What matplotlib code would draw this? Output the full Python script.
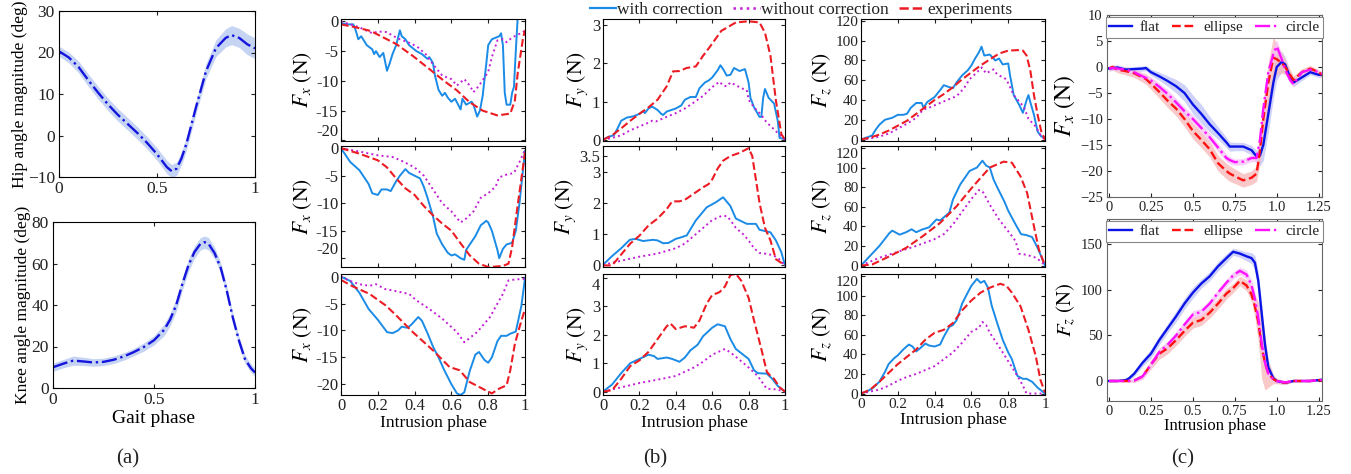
import numpy as np
import matplotlib
matplotlib.use("Agg")
import matplotlib.pyplot as plt
from matplotlib.lines import Line2D

# ---------------- data: panel (a) ----------------
hip_x = [0, .05, .1, .15, .2, .25, .3, .35, .4, .45, .5, .55, .575, .6, .625, .65, .7, .75, .8, .85, .88, .92, .96, 1]
hip = [20.3, 18.8, 16.5, 13.3, 10.3, 7.5, 5.0, 2.8, 0.6, -1.8, -4.5, -7.6, -8.6, -8.0, -5.5, -2.0, 7.0, 15.5, 21.0, 23.5, 24.2, 23.5, 22.0, 21.0]
hip_sd = [1.2, 1.3, 1.4, 1.5, 1.5, 1.5, 1.5, 1.5, 1.5, 1.5, 1.5, 1.6, 1.6, 1.6, 1.6, 1.6, 1.6, 1.8, 2.0, 2.2, 2.3, 2.3, 2.5, 2.5]

knee_x = [0, .05, .1, .15, .2, .25, .3, .35, .4, .45, .5, .55, .58, .61, .64, .67, .7, .73, .75, .77, .8, .83, .86, .89, .92, .95, .98, 1]
knee = [10, 11.7, 13.2, 12.8, 12.3, 12.6, 13.6, 15.2, 17.3, 19.8, 23, 28, 33, 40, 50, 59, 65.5, 69.5, 70.3, 69.5, 65, 58, 47, 34, 23, 14, 9.5, 7.5]
knee_sd = [2, 2, 2.2, 2, 1.8, 1.8, 1.8, 1.8, 1.8, 2, 2.2, 2.8, 3, 3, 3, 3, 3, 3, 3, 3, 2.8, 2.5, 2.2, 2, 2, 2, 2, 2]

# ---------------- data: panel (b), Fx ----------------
fx1_with_x = [0, .04, .067, .08, .094, .11, .14, .17, .18, .19, .21, .23, .25, .265, .28, .30, .32, .33, .35, .37, .39, .41, .44, .47, .48, .50, .51, .53, .55, .565, .58, .60, .62, .65, .66, .68, .71, .72, .74, .755, .77, .79, .80, .82, .86, .87, .88, .89, .90, .92, .93, .94, .95, .96, .97]
fx1_with = [-0.3, -0.5, -0.5, -1.5, -3.0, -2.5, -4.0, -4.7, -5.5, -5.0, -6.0, -5.3, -8.3, -7.0, -5.5, -4.0, -1.5, -2.5, -3.0, -4.0, -4.5, -5.0, -5.5, -6.3, -6.0, -7.0, -9.0, -11.5, -12.5, -12.0, -12.8, -13.5, -13.0, -14.8, -13.0, -14.0, -13.5, -14.0, -16.0, -15.0, -12.5, -7.0, -4.0, -3.0, -2.5, -2.0, -4.0, -12.0, -14.0, -14.0, -12.0, -11.0, -5.0, 0.5, 3.0]
fx1_exp_x = [0, .08, .16, .3, .39, .48, .56, .63, .70, .77, .85, .92, .945, .96, .99, 1.0]
fx1_exp = [-0.5, -1.0, -1.6, -3.8, -5.8, -8.0, -10.0, -11.6, -13.6, -15.0, -15.8, -15.5, -13.3, -8.8, -2.7, -1.5]
fx1_wo_x = [0, .05, .1, .17, .2, .25, .28, .32, .38, .42, .46, .5, .55, .6, .63, .67, .7, .72, .75, .8, .82, .85, .88, .9, .93, .97, 1.0]
fx1_wo = [0, -0.5, -1.0, -2.0, -1.7, -1.8, -2.4, -3.0, -3.7, -4.4, -5.5, -7.2, -9.1, -9.7, -10.8, -9.7, -10.8, -11.9, -10.8, -8.5, -6.0, -3.2, -3.0, -3.5, -2.7, -2.1, -1.6]

fx2_with_x = [0, .05, .1, .15, .17, .2, .22, .25, .27, .3, .32, .35, .37, .4, .43, .45, .47, .5, .52, .55, .58, .6, .62, .65, .67, .68, .7, .73, .76, .79, .8, .82, .85, .86, .88, .9, .93, .95, .97, 1.0]
fx2_with = [0, -2.5, -4.0, -6.5, -8.2, -8.5, -7.5, -7.5, -7.8, -6.0, -5.0, -3.8, -4.5, -5.0, -5.5, -7.0, -9.0, -12.4, -15.5, -17.5, -19.0, -19.5, -19.3, -20.0, -20.3, -18.5, -17.5, -16.0, -14.0, -13.2, -13.5, -15.0, -18.5, -20.0, -18.3, -17.5, -17.2, -15.0, -10.0, -0.5]
fx2_exp_x = [0, .1, .2, .25, .3, .35, .4, .45, .5, .55, .6, .65, .7, .75, .8, .85, .88, .91, .93, .96, 1.0]
fx2_exp = [0, -1.0, -2.2, -3.5, -5.5, -7.3, -8.5, -10.5, -12.2, -13.7, -15.0, -17.3, -19.5, -21.0, -21.6, -21.5, -21.4, -21.0, -18.0, -10.4, -0.8]
fx2_wo_x = [0, .1, .2, .28, .33, .4, .45, .5, .55, .6, .65, .68, .72, .76, .8, .84, .86, .9, .94, .97, 1.0]
fx2_wo = [0, -0.6, -1.3, -1.6, -2.3, -3.5, -5.0, -7.5, -10.0, -11.5, -13.5, -12.8, -11.5, -9.0, -8.2, -7.0, -5.3, -4.8, -4.5, -2.5, -0.3]

fx3_with_x = [0, .05, .1, .15, .2, .25, .28, .31, .33, .36, .38, .42, .44, .47, .5, .53, .56, .6, .63, .65, .67, .7, .73, .75, .78, .8, .82, .85, .87, .9, .92, .95, .98, 1.0]
fx3_with = [0, -0.8, -3.0, -6.0, -8.0, -10.3, -10.5, -10.0, -9.3, -9.5, -9.0, -7.5, -8.2, -10.5, -13.0, -15.0, -17.3, -20.0, -21.7, -22.0, -21.5, -17.5, -14.5, -14.0, -15.5, -16.0, -15.0, -12.0, -11.0, -11.0, -10.6, -10.2, -5.5, -0.3]
fx3_exp_x = [0, .064, .155, .245, .3, .39, .5, .59, .645, .7, .79, .82, .86, .9, .92, .945, .97, 1.0]
fx3_exp = [-0.6, -1.8, -3.2, -5.4, -7.2, -10.3, -13.7, -16.8, -17.4, -19.6, -21.2, -21.7, -20.8, -20.2, -17.4, -12.5, -9.4, -6.0]
fx3_wo_x = [0, .05, .1, .155, .19, .24, .3, .37, .41, .48, .55, .63, .67, .74, .81, .85, .88, .91, .95, 1.0]
fx3_wo = [0, -0.8, -1.4, -1.7, -1.4, -2.3, -2.7, -3.2, -4.4, -6.0, -7.8, -10.3, -12.2, -10.3, -7.5, -5.0, -3.2, -0.7, -0.5, -0.4]

# ---------------- data: panel (b), Fy ----------------
fy1_with_x = [0, .03, .06, .08, .1, .13, .17, .2, .22, .23, .25, .27, .3, .32, .33, .35, .4, .43, .45, .48, .51, .53, .56, .58, .6, .63, .645, .66, .68, .7, .72, .75, .78, .8, .81, .83, .86, .87, .88, .89, .91, .94, .96, .97, 1.0]
fy1_with = [0, .08, .12, .3, .5, .58, .62, .68, .75, .7, .82, .87, .78, .68, .65, .74, .82, .9, 1.05, 1.12, 1.12, 1.35, 1.5, 1.55, 1.63, 1.82, 1.95, 1.85, 1.68, 1.7, 1.88, 1.8, 1.85, 1.5, 1.1, .85, .6, .6, 1.1, 1.33, 1.1, .95, .5, .05, .02]
fy1_exp_x = [0, .05, .1, .15, .2, .25, .3, .35, .385, .42, .46, .51, .55, .59, .65, .73, .8, .86, .89, .92, .95, .98, 1.0]
fy1_exp = [0, .12, .3, .5, .68, .85, 1.05, 1.4, 1.79, 1.8, 1.88, 1.92, 2.2, 2.45, 2.85, 3.07, 3.1, 3.07, 2.8, 2.2, 1.03, .15, 0]
fy1_wo_x = [0, .05, .1, .15, .2, .25, .27, .29, .33, .4, .45, .5, .55, .6, .64, .66, .68, .7, .73, .76, .79, .8, .83, .87, .9, .93, .96, 1.0]
fy1_wo = [0, .05, .12, .25, .35, .45, .5, .48, .56, .7, .82, .98, 1.15, 1.38, 1.52, 1.42, 1.4, 1.5, 1.43, 1.35, 1.3, 1.05, .85, .65, .45, .32, .18, 0]

fy2_with_x = [0, .05, .1, .147, .18, .22, .275, .3, .33, .36, .4, .43, .46, .51, .57, .62, .66, .7, .73, .79, .84, .86, .92, .95, .98, 1.0]
fy2_with = [0.02, .3, .55, .82, .85, .78, .82, .8, .71, .72, .85, .9, .96, 1.44, 1.86, 2.02, 2.18, 1.9, 1.5, 1.33, 1.33, 1.14, 1.06, .8, .42, 0]
fy2_exp_x = [0, .05, .1, .15, .2, .25, .3, .35, .38, .42, .45, .5, .55, .58, .6, .63, .66, .7, .75, .8, .82, .86, .89, .92, .95, 1.0]
fy2_exp = [0, 0, .35, .7, .95, 1.28, 1.5, 1.8, 2.05, 2.05, 2.1, 2.3, 2.5, 2.6, 2.75, 3.1, 3.35, 3.5, 3.6, 3.75, 3.5, 2.0, 1.2, .8, .2, 0]
fy2_wo_x = [0, .1, .2, .3, .4, .45, .5, .55, .6, .65, .68, .7, .73, .77, .8, .83, .86, .9, .93, .96, 1.0]
fy2_wo = [.02, .15, .28, .38, .55, .7, .95, 1.2, 1.45, 1.58, 1.58, 1.45, 1.2, 1.0, .8, .55, .4, .37, .33, .25, 0]

fy3_with_x = [0, .05, .1, .15, .2, .25, .28, .3, .33, .35, .38, .42, .45, .48, .52, .55, .6, .63, .67, .7, .73, .76, .8, .83, .85, .9, .93, .96, 1.0]
fy3_with = [0, .25, .65, 1.0, 1.15, 1.3, 1.25, 1.15, 1.18, 1.2, 1.15, 1.05, 1.2, 1.45, 1.65, 1.95, 2.25, 2.37, 2.3, 1.85, 1.5, 1.35, 1.15, .75, .65, .63, .45, .2, 0]
fy3_exp_x = [0, .05, .1, .15, .2, .25, .3, .35, .37, .4, .45, .5, .53, .57, .6, .64, .67, .7, .73, .76, .8, .83, .87, .9, .92, .94, .97, 1.0]
fy3_exp = [0, .05, .45, .9, 1.1, 1.4, 1.85, 2.3, 2.4, 2.2, 2.3, 2.25, 2.5, 3.1, 3.4, 3.5, 3.7, 4.1, 4.15, 3.9, 3.3, 2.5, 1.5, .7, .55, .45, .15, 0]
fy3_wo_x = [0, .1, .2, .3, .4, .5, .55, .6, .67, .7, .75, .8, .85, .9, .95, 1.0]
fy3_wo = [0, .15, .3, .42, .55, .85, 1.05, 1.3, 1.5, 1.38, 1.12, .85, .55, .1, .08, 0]

# ---------------- data: panel (b), Fz ----------------
fz1_with_x = [0, .03, .06, .08, .1, .13, .17, .2, .23, .25, .27, .3, .33, .34, .36, .4, .43, .45, .48, .5, .52, .55, .58, .6, .62, .64, .655, .67, .7, .73, .75, .77, .8, .81, .83, .86, .88, .9, .91, .92, .94, .96, .98, 1.0]
fz1_with = [0, 2, 4, 10, 15, 20, 22, 25, 25, 26, 32, 37, 37, 32, 38, 43, 50, 55, 53, 52, 58, 65, 70, 75, 82, 88, 94, 85, 86, 80, 82, 76, 77, 65, 45, 35, 27, 40, 45, 38, 25, 8, 3, 2]
fz1_exp_x = [0, .05, .1, .15, .2, .25, .3, .35, .4, .45, .5, .55, .6, .65, .7, .75, .8, .85, .88, .9, .92, .94, .96, .98, 1.0]
fz1_exp = [0, 2, 5, 9, 14, 19, 26, 33, 40, 46, 53, 61, 68, 75, 81, 87, 90, 90.5, 90, 85, 70, 45, 25, 8, 0]
fz1_wo_x = [0, .05, .1, .15, .2, .25, .3, .336, .38, .43, .52, .56, .59, .63, .656, .68, .72, .74, .79, .83, .885, .91, .95, .98, 1.0]
fz1_wo = [0, 1, 3, 6, 11, 16, 22, 30, 33, 37, 44, 52, 61, 68, 73, 67, 71, 66, 61, 45, 33, 21, 13, 3, 0]

fz2_with_x = [0, .05, .1, .154, .17, .21, .245, .275, .3, .33, .37, .41, .43, .48, .5, .54, .59, .63, .66, .68, .7, .72, .74, .78, .8, .84, .87, .9, .93, .96, 1.0]
fz2_with = [0, 10, 20, 33, 35.6, 31.5, 34, 37, 34, 36.6, 39, 47, 46, 54, 67.5, 83, 96.5, 100, 107, 102, 100, 88, 80, 65, 56, 42, 32, 31, 29, 18, 0]
fz2_exp_x = [0, .06, .15, .245, .336, .43, .52, .61, .70, .775, .82, .867, .903, .94, .967, 1.0]
fz2_exp = [0, 1, 9, 18, 30, 43.5, 60.6, 81, 100, 106, 105, 91, 74, 40, 16, 0]
fz2_wo_x = [0, .1, .2, .3, .4, .45, .5, .55, .6, .64, .66, .7, .75, .8, .84, .86, .9, .95, .98, 1.0]
fz2_wo = [0, 8, 14, 20, 27, 32, 42, 55, 68, 77, 76, 62, 47, 35, 25, 12, 11, 8, 4, 0]

fz3_with_x = [0, .03, .06, .1, .13, .15, .18, .2, .23, .26, .28, .3, .32, .35, .37, .4, .43, .45, .48, .5, .52, .55, .58, .6, .63, .65, .67, .69, .71, .74, .77, .8, .82, .85, .88, .9, .93, .96, 1.0]
fz3_with = [0, 2, 5, 12, 22, 30, 36, 39, 45, 50, 48, 43, 46, 51, 49, 48, 50, 58, 68, 70, 75, 92, 103, 110, 117, 113, 115, 108, 90, 72, 55, 42, 35, 18, 15, 15, 12, 6, 0]
fz3_exp_x = [0, .05, .1, .2, .3, .35, .4, .45, .5, .55, .6, .65, .7, .757, .79, .82, .867, .91, .95, .975, 1.0]
fz3_exp = [0, 4, 12, 30, 45, 55, 62, 65, 72, 85, 95, 103, 108, 112, 110, 103, 89, 65, 38, 14, 1]
fz3_wo_x = [0, .1, .15, .2, .25, .3, .35, .4, .45, .5, .55, .6, .64, .66, .68, .7, .75, .8, .85, .88, .9, .95, 1.0]
fz3_wo = [0, 4, 8, 13, 17, 20, 24, 28, 35, 42, 52, 63, 67, 73, 70, 62, 48, 33, 18, 8, 0, 0, 0]

# ---------------- data: panel (c) ----------------
c_fx_x = [0, .02, .05, .1, .15, .2, .22, .25, .3, .35, .4, .45, .5, .55, .6, .65, .7, .72, .75, .8, .85, .88, .9, .92, .95, .98, 1.0, 1.03, 1.05, 1.08, 1.1, 1.15, 1.2, 1.25, 1.27]
flat_fx = [-0.3, -0.2, -0.1, -0.5, -0.4, -0.3, -0.2, -1.0, -1.8, -2.7, -3.7, -5.0, -7.2, -9.0, -11.0, -12.7, -14.5, -15.3, -15.3, -15.3, -16.0, -17.2, -17.0, -15.0, -9.0, -3.0, 0.0, 1.0, 0.5, -2.0, -3.0, -2.0, -1.0, -1.5, -1.5]
flat_fx_sd = [.5, .5, .5, .5, .5, .5, .5, .6, .8, 1.0, 1.3, 1.6, 1.8, 1.8, 1.5, 1.2, 1.0, .9, .8, .8, .9, 1.2, 2.0, 3.0, 3.5, 3.0, 2.5, 2.0, 1.5, 1.0, .8, .6, .5, .5, .5]
ellipse_fx = [-0.3, 0.0, -0.5, -0.8, -1.2, -2.0, -2.3, -3.2, -4.8, -6.5, -8.0, -10.0, -12.3, -14.0, -15.8, -18.5, -20.0, -20.5, -21.0, -21.8, -21.3, -20.5, -16.0, -10.0, -3.0, 1.8, 1.5, 0.8, 0.0, -1.5, -2.5, -1.0, -0.3, -1.0, -1.5]
ellipse_fx_sd = [.5, .5, .6, .7, .8, .9, 1.0, 1.1, 1.2, 1.3, 1.4, 1.5, 1.5, 1.5, 1.5, 1.5, 1.5, 1.5, 1.4, 1.3, 1.3, 1.5, 2.5, 3.5, 4.0, 4.0, 3.0, 2.0, 1.5, 1.0, .8, .7, .6, .5, .5]
circle_fx = [-0.3, -0.2, -0.3, -0.5, -1.0, -1.8, -2.1, -2.6, -3.8, -5.2, -6.8, -8.5, -10.0, -11.7, -13.5, -15.5, -17.5, -17.9, -18.3, -18.2, -17.5, -17.5, -14.0, -8.0, -1.0, 2.5, 4.0, 1.5, -0.5, -2.5, -3.3, -1.0, -0.5, -1.0, -1.3]
circle_fx_sd = [.4, .4, .4, .5, .5, .6, .6, .7, .7, .8, .8, .8, .8, .8, .8, .8, .7, .7, .6, .6, .7, .8, 1.2, 1.5, 1.5, 1.5, 1.2, 1.0, .8, .6, .5, .4, .4, .4, .4]

c_fz_x = [0, .05, .1, .12, .15, .2, .25, .3, .35, .4, .45, .5, .55, .6, .65, .7, .74, .78, .82, .85, .87, .89, .91, .93, .95, .98, 1.0, 1.05, 1.1, 1.2, 1.25, 1.27]
flat_fz = [0, 0, 1, 3, 8, 20, 30, 45, 58, 71, 85, 97, 107, 115, 126, 135, 142, 140, 137, 135, 130, 110, 75, 40, 15, 3, 0, -2, 0, 0, 1, 1.5]
flat_fz_sd = [1, 1, 1, 2, 3, 4, 5, 5, 5, 6, 6, 6, 5, 5, 5, 5, 4, 4, 5, 6, 8, 10, 10, 8, 5, 3, 2, 2, 1, 1, 1, 1]
ellipse_fz = [0, 0, 0, 0, .5, 5, 18, 30, 36, 45, 55, 64, 67, 75, 85, 96, 102, 110, 105, 95, 82, 65, 38, 20, 8, 2, 0, -2, 0, 0, 1, .5]
ellipse_fz_sd = [1, 1, 1, 1, 2, 3, 5, 6, 6, 6, 6, 6, 6, 6, 6, 6, 5, 5, 6, 8, 12, 22, 35, 30, 15, 5, 3, 2, 1, 1, 1, 1]
circle_fz = [0, 0, 0, 0, .5, 5, 18, 32, 40, 50, 62, 73, 76, 85, 97, 108, 116, 121, 117, 105, 90, 70, 42, 20, 8, 2, 0, -1.5, 0, 0, 1, 1]
circle_fz_sd = [1, 1, 1, 1, 2, 3, 4, 4, 4, 4, 4, 4, 4, 4, 4, 4, 4, 4, 5, 6, 8, 10, 10, 8, 5, 3, 2, 2, 1, 1, 1, 1]

# ---------------- style ----------------
plt.rcParams['font.family'] = ['Liberation Serif', 'DejaVu Serif']
plt.rcParams['mathtext.fontset'] = 'stix'
plt.rcParams['axes.linewidth'] = 0.8
plt.rcParams['xtick.direction'] = 'in'
plt.rcParams['ytick.direction'] = 'in'
plt.rcParams['xtick.top'] = True
plt.rcParams['ytick.right'] = True
plt.rcParams['xtick.major.size'] = 3
plt.rcParams['ytick.major.size'] = 3
plt.rcParams['text.color'] = '#222222'
plt.rcParams['xtick.color'] = '#222222'
plt.rcParams['ytick.color'] = '#222222'

C_WITH = '#1a8be6'
C_WO = '#c21fd6'
C_EXP = '#ec1c24'

W, H = 1351, 474
fig = plt.figure(figsize=(W / 100, H / 100), dpi=100)


def ax_px(l, t, r, b):
    return fig.add_axes([l / W, 1 - b / H, (r - l) / W, (b - t) / H])


# ---------------- panel (a) ----------------
ax = ax_px(59, 11, 255, 177)
ax.fill_between(hip_x, np.array(hip) - hip_sd, np.array(hip) + hip_sd, color='#c6d4f4', lw=0)
ax.plot(hip_x, hip, '-.', color='#1414dc', lw=1.7)
ax.set_xlim(0, 1)
ax.set_ylim(-10, 30)
ax.set_xticks([0, 0.5, 1], ['0', '0.5', '1'])
ax.set_yticks([-10, 0, 10, 20, 30])
ax.tick_params(labelsize=12.5, pad=3)
ax.set_ylabel('Hip angle magnitude (deg)', fontsize=12.5, labelpad=0)

ax = ax_px(53, 222, 255, 388)
ax.fill_between(knee_x, np.array(knee) - knee_sd, np.array(knee) + knee_sd, color='#c6d4f4', lw=0)
ax.plot(knee_x, knee, '-.', color='#1414dc', lw=1.7)
ax.set_xlim(0, 1)
ax.set_ylim(0, 80)
ax.set_xticks([0, 0.5, 1], ['0', '0.5', '1'])
ax.set_yticks([0, 20, 40, 60, 80])
ax.tick_params(labelsize=12.5, pad=3)
ax.set_ylabel('Knee angle magnitude (deg)', fontsize=12.5, labelpad=0)
ax.set_xlabel('Gait phase', fontsize=14, labelpad=1)

# ---------------- panel (b) ----------------
cols = [341, 603, 861]
col_r = [525, 785, 1045]
rows = [(19, 141), (146, 267), (274, 395)]

fx_sets = [(fx1_with_x, fx1_with, fx1_wo_x, fx1_wo, fx1_exp_x, fx1_exp),
           (fx2_with_x, fx2_with, fx2_wo_x, fx2_wo, fx2_exp_x, fx2_exp),
           (fx3_with_x, fx3_with, fx3_wo_x, fx3_wo, fx3_exp_x, fx3_exp)]
fy_sets = [(fy1_with_x, fy1_with, fy1_wo_x, fy1_wo, fy1_exp_x, fy1_exp),
           (fy2_with_x, fy2_with, fy2_wo_x, fy2_wo, fy2_exp_x, fy2_exp),
           (fy3_with_x, fy3_with, fy3_wo_x, fy3_wo, fy3_exp_x, fy3_exp)]
fz_sets = [(fz1_with_x, fz1_with, fz1_wo_x, fz1_wo, fz1_exp_x, fz1_exp),
           (fz2_with_x, fz2_with, fz2_wo_x, fz2_wo, fz2_exp_x, fz2_exp),
           (fz3_with_x, fz3_with, fz3_wo_x, fz3_wo, fz3_exp_x, fz3_exp)]

ylims = [[(-20.1, 0.4), (-21.6, 0.4), (-22.0, 0.5)],
         [(-0.03, 3.16), (-0.05, 3.82), (-0.12, 4.14)],
         [(-1.5, 122), (-1.5, 122), (-1.5, 122)]]
yticks = [[[-20, -15, -10, -5, 0]] * 3,
          [[0, 1, 2, 3], [0, 1, 2, 3, 3.5], [0, 1, 2, 3, 4]],
          [[0, 20, 40, 60, 80, 100, 120]] * 3]
ylabs = [r'$F_x\ (\mathrm{N})$', r'$F_y\ (\mathrm{N})$', r'$F_z\ (\mathrm{N})$']
tick_fs = [12, 12, 11]

for c, sets in enumerate([fx_sets, fy_sets, fz_sets]):
    for r, (wx, wy, ox, oy, ex, ey) in enumerate(sets):
        ax = ax_px(cols[c], rows[r][0], col_r[c], rows[r][1])
        ax.plot(wx, wy, '-', color=C_WITH, lw=1.4)
        ax.plot(ox, oy, ':', color=C_WO, lw=1.4)
        ax.plot(ex, ey, '--', color=C_EXP, lw=1.5)
        ax.set_xlim(0, 1)
        ax.set_ylim(*ylims[c][r])
        ax.set_xticks([0, 0.2, 0.4, 0.6, 0.8, 1])
        ax.set_yticks(yticks[c][r])
        labs = ax.set_yticklabels([('%g' % v) for v in yticks[c][r]])
        ax.tick_params(labelsize=tick_fs[c], length=3, pad=2)
        # keep stacked tick labels from running into each other
        if r < 2 and c == 0:
            labs[0].set_verticalalignment('bottom')
        if (c == 2 and r > 0) or (c == 1 and r == 2):
            labs[-1].set_verticalalignment('top')
        if r < 2:
            ax.set_xticklabels([])
        else:
            ax.set_xticklabels(['0', '0.2', '0.4', '0.6', '0.8', '1'])
            ax.set_xlabel('Intrusion phase', fontsize=12.5, labelpad=1)
        ax.set_ylabel(ylabs[c], fontsize=15.5, labelpad=1)

handles = [Line2D([], [], color=C_WITH, ls='-', lw=1.6),
           Line2D([], [], color=C_WO, ls=':', lw=1.8),
           Line2D([], [], color=C_EXP, ls='--', lw=1.8)]
fig.legend(handles, ['with correction', 'without correction', 'experiments'],
           loc='center', bbox_to_anchor=(801 / W, 1 - 10 / H), ncol=3, frameon=False,
           fontsize=12.5, handlelength=1.5, handletextpad=0.1, columnspacing=0.6, borderpad=0)

# ---------------- panel (c) ----------------
c_specs = [(15, 197, c_fx_x,
            [(flat_fx, flat_fx_sd), (ellipse_fx, ellipse_fx_sd), (circle_fx, circle_fx_sd)],
            (-25, 10), [-25, -20, -15, -10, -5, 0, 5, 10], r'$F_x\ (\mathrm{N})$', 17),
           (219, 401, c_fz_x,
            [(flat_fz, flat_fz_sd), (ellipse_fz, ellipse_fz_sd), (circle_fz, circle_fz_sd)],
            (-22, 178), [0, 50, 100, 150], r'$F_z\ (\mathrm{N})$', 15)]
line_cols = ['#0a14e6', '#ff1010', '#ff10ff']
band_cols = ['#c0c4f6', '#f7b8b8', '#f7c0f7']
styles = ['-', '--', '-.']
names = ['flat', 'ellipse', 'circle']

for i, (t, b, xs, series, yl, yt, ylab, yfs) in enumerate(c_specs):
    ax = ax_px(1107, t, 1322, b)
    for k, (vals, sd) in enumerate(series):
        v = np.array(vals)
        s = np.array(sd)
        ax.fill_between(xs, v - s, v + s, color=band_cols[k], alpha=0.75, lw=0)
    for k, (vals, sd) in enumerate(series):
        ax.plot(xs, vals, styles[k], color=line_cols[k], lw=1.7, label=names[k])
    ax.set_xlim(-0.012, 1.27)
    ax.set_ylim(*yl)
    ax.set_yticks(yt)
    ax.set_xticks([0, 0.25, 0.5, 0.75, 1.0, 1.25], ['0', '0.25', '0.5', '0.75', '1.0', '1.25'])
    ax.tick_params(labelsize=10.5, length=3, pad=3)
    for sp in ax.spines.values():
        sp.set_color('#666666')
    ax.set_ylabel(ylab, fontsize=yfs, labelpad=2)
    leg = ax.legend(loc='upper center', bbox_to_anchor=(0.5, 1.0), ncol=3, fontsize=11,
                    handlelength=1.5, handletextpad=0.5, columnspacing=0.8,
                    borderaxespad=0.1, fancybox=False, framealpha=1, borderpad=0.25)
    leg.get_frame().set_edgecolor('#888888')
    leg.get_frame().set_linewidth(0.8)
    if i == 1:
        ax.set_xlabel('Intrusion phase', fontsize=12, labelpad=0)

# panel labels
fig.text(128 / W, 1 - 459 / H, '(a)', fontsize=15, ha='center', va='center')
fig.text(655 / W, 1 - 459 / H, '(b)', fontsize=15, ha='center', va='center')
fig.text(1183 / W, 1 - 459 / H, '(c)', fontsize=15, ha='center', va='center')

fig.savefig('out.png', dpi=100)
